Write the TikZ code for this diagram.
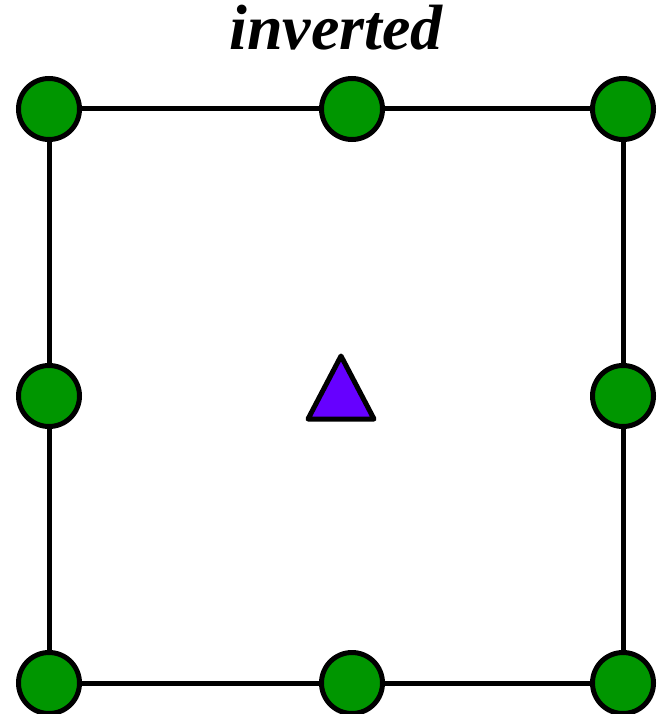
\documentclass[tikz,border=0pt]{standalone}
\usepackage{fontspec}
\setmainfont{Liberation Serif}
\definecolor{dotgreen}{RGB}{0,150,0}
\definecolor{tripurple}{RGB}{102,0,255}
\begin{document}
\begin{tikzpicture}[x=1pt,y=-1pt,
  dot/.style={circle,draw=black,fill=dotgreen,line width=5pt,minimum size=61pt,inner sep=0pt},
  edge/.style={line width=5pt,draw=black}]
\useasboundingbox (0,0) rectangle (656,714);
\node[font=\fontsize{64}{64}\selectfont\bfseries\itshape,anchor=base] (title) at (336,50) {inverted};
\coordinate (tl) at (49,109);
\coordinate (tm) at (352,109);
\coordinate (tr) at (623,109);
\coordinate (ml) at (49,396);
\coordinate (mr) at (623,396);
\coordinate (bl) at (49,683);
\coordinate (bm) at (352,683);
\coordinate (br) at (623,683);
\draw[edge] (tl) -- (tm) -- (tr) -- (mr) -- (br) -- (bm) -- (bl) -- (ml) -- cycle;
\foreach \p in {tl,tm,tr,ml,mr,bl,bm,br} {\node[dot] (n\p) at (\p) {};}
\draw[line width=5pt,fill=tripurple,line join=round] (341,356) -- (374,419) -- (308,419) -- cycle;
\end{tikzpicture}
\end{document}
